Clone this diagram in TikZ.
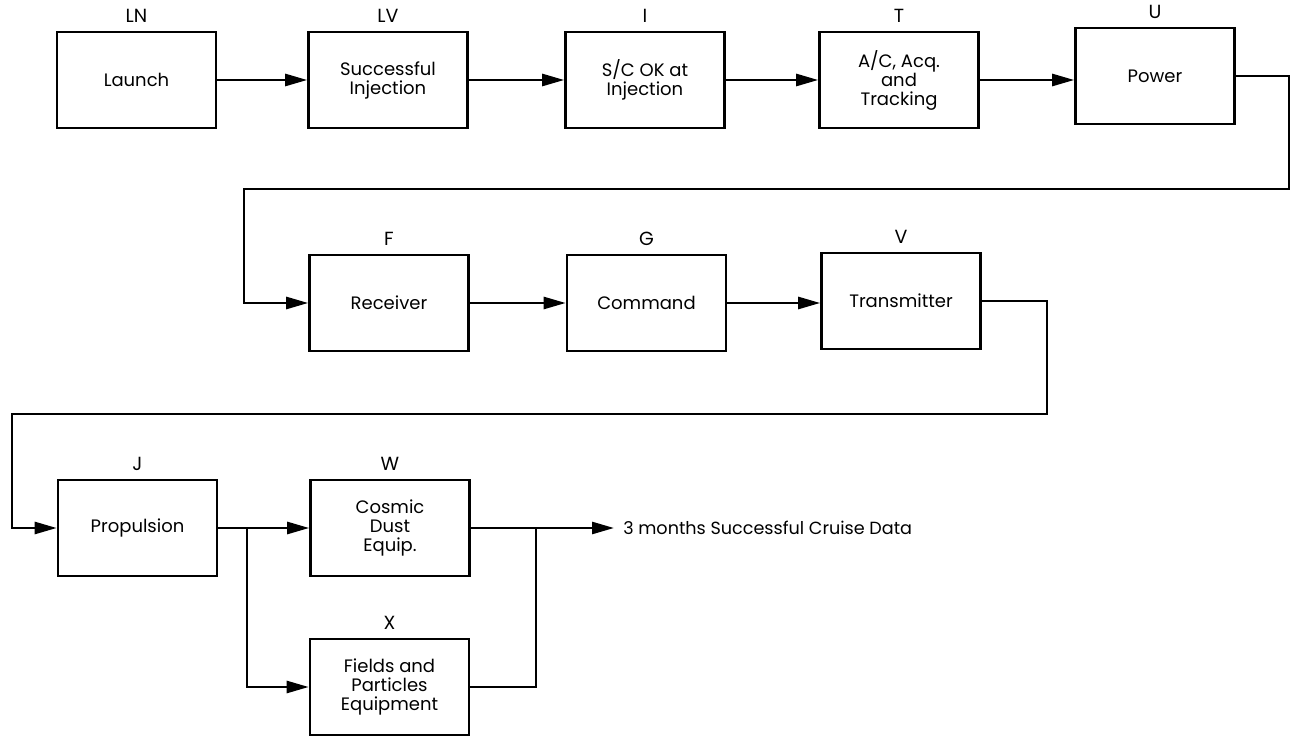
\documentclass[tikz,border=0pt]{standalone}
\usepackage{fontspec}
\setmainfont{Poppins}
\usetikzlibrary{arrows.meta}
\begin{document}
\begin{tikzpicture}
        [x=0.5pt,y=-0.5pt,line width=1.3pt,
        >={Triangle[length=11pt,width=6pt]},
        blk/.style={draw,minimum width=79.5pt,minimum height=48pt,
                align=center,inner sep=2pt,font=\fontsize{9}{9.5}\selectfont},
        tag/.style={label={[label distance=0pt,font=\fontsize{9.5}{10}\selectfont]above:#1}}]
        \useasboundingbox (0,0) rectangle (1297,737);
        % first row
        \node[blk,tag=LN] (ln) at (136.5,80) {Launch};
        \node[blk,tag=LV] (lv) at (388,80) {Successful\\Injection};
        \node[blk,tag=I] (inj) at (645,80) {S/C OK at\\Injection};
        \node[blk,tag=T] (trk) at (899,80) {A/C, Acq.\\and\\Tracking};
        \node[blk,tag=U] (pwr) at (1155,76) {Power};
        % second row
        \node[blk,tag=F] (rcv) at (389,303) {Receiver};
        \node[blk,tag=G] (cmd) at (646.5,303) {Command};
        \node[blk,tag=V] (xmt) at (901,301) {Transmitter};
        % third row
        \node[blk,tag=J] (prp) at (137.5,528) {Propulsion};
        \node[blk,tag=W] (dst) at (390,528) {Cosmic\\Dust\\Equip.};
        \node[blk,tag=X] (fld) at (389.5,687) {Fields and\\Particles\\Equipment};
        \node[anchor=west,inner sep=0pt,font=\fontsize{8.8}{9}\selectfont]
                (res) at (622,528) {3 months Successful Cruise Data};
        \coordinate (r1) at (1289,189);
        \coordinate (l1) at (244,189);
        \coordinate (r2) at (1047,414);
        \coordinate (l2) at (12,414);
        \coordinate (sp) at (247,528);
        \coordinate (jn) at (536,528);
        \draw[->] (ln) -- (lv);
        \draw[->] (lv) -- (inj);
        \draw[->] (inj) -- (trk);
        \draw[->] (trk.east) -- (trk.east -| pwr.west);
        \draw[->] (pwr.east) -| (r1) -- (l1) |- (rcv.west);
        \draw[->] (rcv) -- (cmd);
        \draw[->] (cmd.east) -- (cmd.east -| xmt.west);
        \draw[->] (xmt.east) -| (r2) -- (l2) |- (prp.west);
        \draw[->] (prp) -- (dst);
        \draw[->] (sp) |- (fld.west);
        \draw (fld.east) -| (jn);
        \draw[->] (dst.east) -- ([xshift=-4pt]res.west);
\end{tikzpicture}
\end{document}
